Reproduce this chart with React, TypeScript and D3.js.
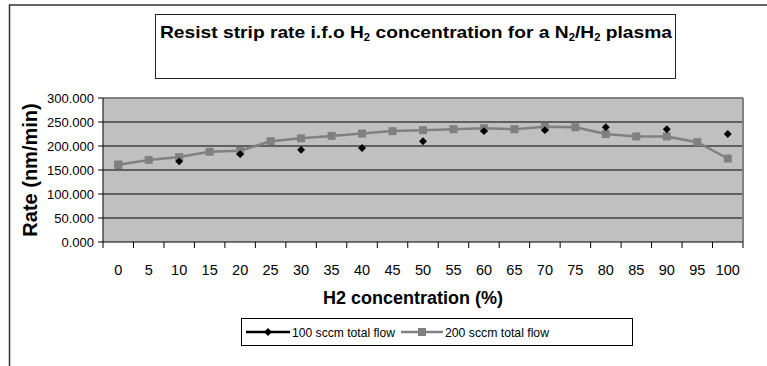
import React from "react";
import * as d3 from "d3";

// H2 concentration categories (%)
const categories = ["0", "5", "10", "15", "20", "25", "30", "35", "40", "45", "50",
  "55", "60", "65", "70", "75", "80", "85", "90", "95", "100"];

// 100 sccm total flow: measured every 10 %, blanks in between
const flow100 = [160, null, 168, null, 183, null, 192, null, 196, null, 210,
  null, 231, null, 233, null, 239, null, 235, null, 225];

// 200 sccm total flow: measured every 5 %
const flow200 = [161, 171, 177, 188, 190, 210, 216, 221, 226, 231, 233,
  235, 237, 235, 240, 239, 225, 220, 220, 208, 174];

const yTicks = [0, 50, 100, 150, 200, 250, 300];

const W = 767;
const H = 366;
const font = "'Liberation Sans', Arial, sans-serif";

export default function App() {
  const left = 103, right = 743, top = 98, bottom = 242;

  const x = d3.scaleBand().domain(categories).range([left, right]);
  const y = d3.scaleLinear().domain([0, 300]).range([bottom, top]);
  const fmt = d3.format(".3f");
  const cx = (i: number) => x(categories[i])! + x.bandwidth() / 2;

  const pts200 = flow200.map((v, i) => [cx(i), y(v)] as [number, number]);
  const line200 = d3.line()(pts200);

  const diamond = d3.symbol().type(d3.symbolDiamond2).size(40)();

  const edges = categories.map((c) => x(c)!).concat([right]);

  return (
    <div style={{ position: "absolute", left: 0, top: 0, width: W, height: H, overflow: "hidden" }}>
      <svg width={W} height={H} style={{ display: "block", background: "#fff" }}>
        {/* outer chart frame, runs off the picture on right and bottom */}
        <rect x={9.5} y={5} width={W + 20} height={H + 20} fill="#fff" stroke="#333" strokeWidth={1.5} />

        {/* title box */}
        <rect x={155.5} y={14.5} width={520} height={64} fill="#fff" stroke="#222" strokeWidth={1} />
        <text x={160} y={38} fontFamily={font} fontWeight="bold" fontSize={17} fill="#000"
          textLength={512} lengthAdjust="spacingAndGlyphs">
          Resist strip rate i.f.o H<tspan fontSize={10} dy={3}>2</tspan>
          <tspan dy={-3}> concentration for a N</tspan><tspan fontSize={10} dy={3}>2</tspan>
          <tspan dy={-3}>/H</tspan><tspan fontSize={10} dy={3}>2</tspan>
          <tspan dy={-3}> plasma</tspan>
        </text>

        {/* plot area */}
        <rect x={left} y={top} width={right - left} height={bottom - top} fill="#c0c0c0" />
        {yTicks.slice(1).map((t) => (
          <line key={t} x1={left} x2={right} y1={y(t)} y2={y(t)} stroke="#000" strokeWidth={1} />
        ))}
        <line x1={left} x2={right} y1={top} y2={top} stroke="#808080" strokeWidth={2} />
        <line x1={right} x2={right} y1={top} y2={bottom} stroke="#808080" strokeWidth={2} />
        <line x1={left} x2={left} y1={top} y2={bottom} stroke="#000" strokeWidth={1} />
        <line x1={left} x2={right} y1={bottom} y2={bottom} stroke="#000" strokeWidth={1} />

        {/* y axis */}
        {yTicks.map((t) => (
          <g key={t}>
            <line x1={left - 5} x2={left} y1={y(t)} y2={y(t)} stroke="#000" />
            <text x={left - 9} y={y(t)} dy="0.35em" textAnchor="end" fontFamily={font} fontSize={13} fill="#000">
              {fmt(t)}
            </text>
          </g>
        ))}

        {/* x axis */}
        {edges.map((e, i) => (
          <line key={i} x1={e} x2={e} y1={bottom} y2={bottom + 6} stroke="#000" />
        ))}
        {categories.map((c, i) => (
          <text key={c} x={cx(i)} y={275} textAnchor="middle" fontFamily={font} fontSize={14.5} fill="#000">
            {c}
          </text>
        ))}

        {/* axis titles */}
        <text x={413} y={304} textAnchor="middle" fontFamily={font} fontWeight="bold" fontSize={18} fill="#000">
          H2 concentration (%)
        </text>
        <text transform={`translate(37, 170) rotate(-90)`} textAnchor="middle" fontFamily={font} fontWeight="bold" fontSize={20} fill="#000">
          Rate (nm/min)
        </text>

        {/* 200 sccm series */}
        <path d={line200 ?? ""} fill="none" stroke="#808080" strokeWidth={2.5} />
        {pts200.map(([px, py], i) => (
          <rect key={i} x={px - 4} y={py - 4} width={8} height={8} fill="#808080" />
        ))}

        {/* 100 sccm series (isolated points) */}
        {flow100.map((v, i) => v == null ? null : (
          <path key={i} d={diamond ?? ""} transform={`translate(${cx(i)}, ${y(v)})`} fill="#000" />
        ))}
        {/* the 0% square sits on top of its diamond, as in the source */}
        <rect x={pts200[0][0] - 4} y={pts200[0][1] - 4} width={8} height={8} fill="#808080" />

        {/* legend */}
        <rect x={241.5} y={318.5} width={391} height={27} fill="#fff" stroke="#000" strokeWidth={1} />
        <line x1={246} x2={290} y1={332} y2={332} stroke="#000" strokeWidth={2.5} />
        <path d={diamond ?? ""} transform="translate(268, 332)" fill="#000" />
        <text x={292} y={337} fontFamily={font} fontSize={13.5} fill="#000" textLength={103} lengthAdjust="spacingAndGlyphs">100 sccm total flow</text>
        <line x1={401} x2={443} y1={332} y2={332} stroke="#808080" strokeWidth={2.5} />
        <rect x={418} y={328} width={8} height={8} fill="#808080" />
        <text x={445} y={337} fontFamily={font} fontSize={13.5} fill="#000" textLength={104} lengthAdjust="spacingAndGlyphs">200 sccm total flow</text>
      </svg>
    </div>
  );
}
